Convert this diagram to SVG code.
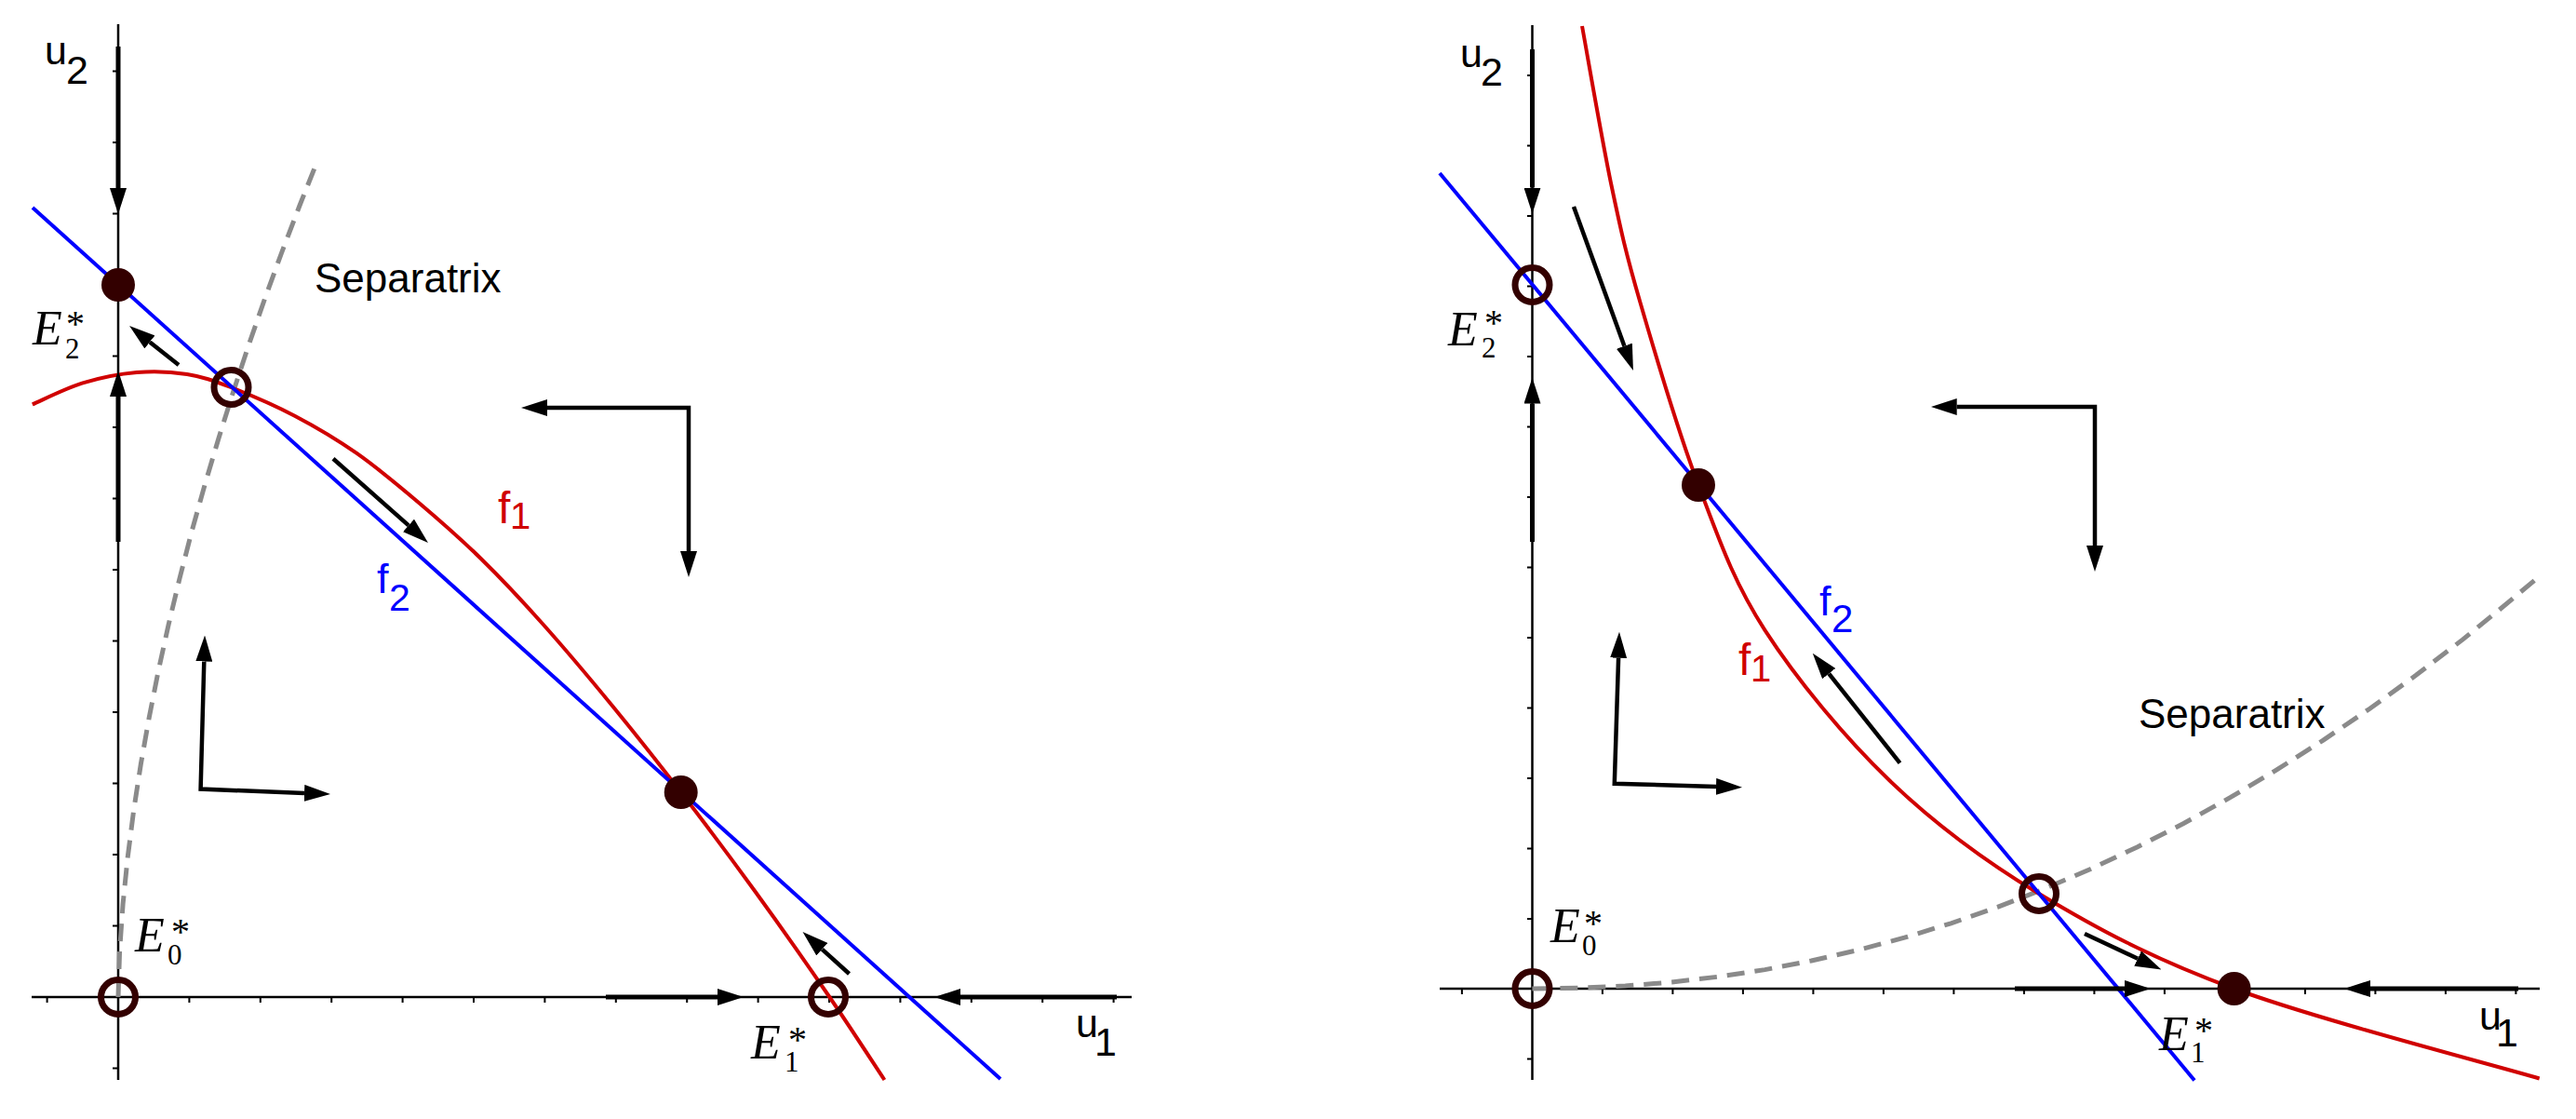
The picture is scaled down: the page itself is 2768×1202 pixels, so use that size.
<svg xmlns="http://www.w3.org/2000/svg" width="2768" height="1202" viewBox="0 0 2768 1202">
<style>
.axis{stroke:#000;stroke-width:2.5;fill:none}
.tick{stroke:#000;stroke-width:2;fill:none}
.thick{stroke:#000;stroke-width:5;fill:none}
.arr{stroke:#000;stroke-width:4.5;fill:none}
.red{stroke:#d00000;stroke-width:4;fill:none}
.blue{stroke:#0000ff;stroke-width:4;fill:none}
.sep{stroke:#8a8a8a;stroke-width:5;fill:none;stroke-dasharray:19 11}
.open{fill:none;stroke:#330000;stroke-width:7}
.fill{fill:#330000}
.lab{font-family:"Liberation Sans",Arial,sans-serif;fill:#000}
.redt{font-family:"Liberation Sans",Arial,sans-serif;fill:#d00000}
.bluet{font-family:"Liberation Sans",Arial,sans-serif;fill:#0000ff}
.em{font-family:"Liberation Serif","Times New Roman",serif;fill:#000}
.it{font-style:italic;font-size:52px}
.sub{font-size:31px}
.sup{font-size:40px}
</style>
<defs>
<marker id="ah" viewBox="0 0 28 18" refX="0" refY="9" markerWidth="28" markerHeight="18" markerUnits="userSpaceOnUse" orient="auto-start-reverse">
<path d="M0,0 L28,9 L0,18 z" fill="#000"/>
</marker>
</defs>
<rect width="2768" height="1202" fill="#fff"/>

<!-- LEFT PANEL -->
<g id="left-axes">
<line class="axis" x1="127" y1="26" x2="127" y2="1160"/>
<line class="axis" x1="34" y1="1071" x2="1216" y2="1071"/>
<path class="tick" d="M121,76.5h6M121,153h6M121,229.5h6M121,306h6M121,382.5h6M121,459h6M121,535.5h6M121,612h6M121,688.5h6M121,765h6M121,841.5h6M121,918h6M121,994.5h6M121,1147.5h6"/>
<path class="tick" d="M50.6,1071v6M203.4,1071v6M279.8,1071v6M356.2,1071v6M432.6,1071v6M509,1071v6M585.4,1071v6M661.8,1071v6M738.2,1071v6M814.6,1071v6M891,1071v6M967.4,1071v6M1043.8,1071v6M1120.2,1071v6M1196.6,1071v6"/>
<text class="lab" x="48" y="69" font-size="43">u<tspan x="71" y="90">2</tspan></text>
<text class="lab" x="1156" y="1114" font-size="43">u<tspan x="1176" y="1134">1</tspan></text>
</g>

<g id="left-separatrix">
<path class="sep" d="M127,1071 L128.6,1021 L132.1,971 L137.2,921 L143.6,871 L151.3,821 L160.2,771 L170.1,721 L181.1,671 L193.1,621 L206,571 L220,521 L234.9,471 L250.6,421 L267.1,371 L284.5,321 L302.8,271 L321.9,221 L341,173"/>
<text class="lab" x="338" y="314" font-size="44">Separatrix</text>
</g>

<g id="left-f1">
<path class="red" d="M34.8,434.4 C43.8,430.6 70.3,417.1 89,411.4 C107.7,405.7 128.3,401.6 147,400 C165.7,398.4 184.2,399.3 201,402 C217.8,404.7 228.7,408.6 248,416 C267.3,423.5 294.2,434.9 316.7,446.7 C339.2,458.5 360.8,471.2 383,486.7 C405.2,502.3 427.7,521.1 450,540 C472.3,558.9 494.5,578.3 516.7,600 C538.9,621.7 559.6,643.8 583,670 C606.4,696.2 632.2,726.8 657,757 C681.8,787.2 706,817.7 731.7,851 C757.4,884.3 784.6,920.7 811,957 C837.4,993.3 866.8,1035.2 890,1069 C913.2,1102.8 940.3,1144.8 950.4,1160"/>
<text class="redt" x="535" y="562" font-size="48">f<tspan x="548" y="568" font-size="40">1</tspan></text>
</g>

<g id="left-f2">
<line class="blue" x1="35" y1="223" x2="1075" y2="1159"/>
<text class="bluet" x="405" y="637" font-size="45">f<tspan x="418" y="656" font-size="41">2</tspan></text>
</g>

<!-- RIGHT PANEL -->
<g id="right-axes">
<line class="axis" x1="1646.5" y1="27" x2="1646.5" y2="1160"/>
<line class="axis" x1="1547" y1="1062" x2="2729" y2="1062"/>
<path class="tick" d="M1641,81.1h5.5M1641,156.6h5.5M1641,232.1h5.5M1641,307.6h5.5M1641,383.1h5.5M1641,458.6h5.5M1641,534.1h5.5M1641,609.6h5.5M1641,685.1h5.5M1641,760.6h5.5M1641,836.1h5.5M1641,911.6h5.5M1641,987.1h5.5M1641,1137.5h5.5"/>
<path class="tick" d="M1570.9,1062v6M1721.9,1062v6M1797.4,1062v6M1872.9,1062v6M1948.4,1062v6M2023.9,1062v6M2099.4,1062v6M2174.9,1062v6M2250.4,1062v6M2325.9,1062v6M2401.4,1062v6M2476.9,1062v6M2552.4,1062v6M2627.9,1062v6M2703.4,1062v6"/>
<text class="lab" x="1569" y="72" font-size="43">u<tspan x="1591" y="92">2</tspan></text>
<text class="lab" x="2664" y="1106" font-size="43">u<tspan x="2682" y="1124">1</tspan></text>
</g>

<g id="right-separatrix">
<path class="sep" d="M1646.4,1062 L1696.4,1061.3 L1746.4,1059 L1796.4,1055 L1846.4,1049.2 L1896.4,1041.6 L1946.4,1032 L1996.4,1020.6 L2046.4,1007.2 L2096.4,991.8 L2146.4,974.4 L2196.4,954.9 L2246.4,933.5 L2296.4,909.9 L2346.4,884.5 L2396.4,856.7 L2446.4,826.9 L2496.4,795.1 L2546.4,761.2 L2596.4,725.1 L2646.4,686.9 L2688,653 L2728.7,619"/>
<text class="lab" x="2298" y="782" font-size="44">Separatrix</text>
</g>

<g id="right-f1">
<path class="red" d="M1700,28 C1705.3,56.7 1721.3,150.5 1731.7,200 C1742.1,249.5 1746.95,271.5 1762.5,325 C1778.05,378.5 1802.7,462.4 1825,521 C1847.3,579.6 1862.2,624 1896.4,676.8 C1930.6,729.6 1980.9,790.8 2030,838 C2079.1,885.2 2129.2,922.7 2191,960 C2252.8,997.3 2311,1028.9 2400.6,1062 C2490.2,1095.1 2674,1142.4 2728.7,1158.5"/>
<text class="redt" x="1868" y="725" font-size="48">f<tspan x="1881" y="732" font-size="40">1</tspan></text>
</g>

<g id="right-f2">
<line class="blue" x1="1547" y1="186" x2="2358" y2="1160.5"/>
<text class="bluet" x="1955" y="661" font-size="45">f<tspan x="1968" y="679" font-size="42">2</tspan></text>
</g>

<!-- CONNECTORS / ARROWS -->
<g id="connectors">
<line class="thick" x1="127" y1="50" x2="127" y2="202" marker-end="url(#ah)"/>
<line class="thick" x1="127" y1="582" x2="127" y2="426" marker-end="url(#ah)"/>
<line class="thick" x1="651" y1="1071" x2="771" y2="1071" marker-end="url(#ah)"/>
<line class="thick" x1="1200" y1="1071" x2="1032" y2="1071" marker-end="url(#ah)"/>
<line class="arr" x1="192" y1="392" x2="161" y2="367.4" marker-end="url(#ah)"/>
<line class="arr" x1="358" y1="492.7" x2="439" y2="564.4" marker-end="url(#ah)"/>
<polyline class="arr" points="588,438 740,438 740,592" marker-start="url(#ah)" marker-end="url(#ah)"/>
<polyline class="arr" points="219.3,710.5 215.6,847.6 327,851.9" marker-start="url(#ah)" marker-end="url(#ah)"/>
<line class="arr" x1="912.5" y1="1046" x2="883.3" y2="1019.7" marker-end="url(#ah)"/>

<line class="thick" x1="1646.5" y1="53" x2="1646.5" y2="201.6" marker-end="url(#ah)"/>
<line class="thick" x1="1646.5" y1="582" x2="1646.5" y2="433.6" marker-end="url(#ah)"/>
<line class="thick" x1="2165" y1="1062" x2="2283" y2="1062" marker-end="url(#ah)"/>
<line class="thick" x1="2706" y1="1062" x2="2547" y2="1062" marker-end="url(#ah)"/>
<line class="arr" x1="1691" y1="222" x2="1745.4" y2="371.7" marker-end="url(#ah)"/>
<line class="arr" x1="2041.5" y1="819.6" x2="1965.2" y2="723.6" marker-end="url(#ah)"/>
<polyline class="arr" points="2102.7,437 2251,437 2251,586" marker-start="url(#ah)" marker-end="url(#ah)"/>
<polyline class="arr" points="1739.1,706.7 1734.8,841.8 1844,844.9" marker-start="url(#ah)" marker-end="url(#ah)"/>
<line class="arr" x1="2240" y1="1003" x2="2297.1" y2="1029.7" marker-end="url(#ah)"/>
</g>

<!-- EQUILIBRIA -->
<g id="L-E0">
<circle class="open" cx="127" cy="1071" r="18.5"/>
<text class="em" x="145" y="1022"><tspan class="it">E</tspan><tspan class="sup" x="184" y="1014">*</tspan><tspan class="sub" x="180" y="1036">0</tspan></text>
</g>
<g id="L-E2">
<circle class="fill" cx="127" cy="306" r="18"/>
<text class="em" x="35" y="370"><tspan class="it">E</tspan><tspan class="sup" x="71" y="361">*</tspan><tspan class="sub" x="70" y="385">2</tspan></text>
</g>
<g id="L-E1">
<circle class="open" cx="890" cy="1071" r="18.5"/>
<text class="em" x="807" y="1137"><tspan class="it">E</tspan><tspan class="sup" x="847" y="1130">*</tspan><tspan class="sub" x="843" y="1151">1</tspan></text>
</g>
<g id="L-saddle">
<circle class="open" cx="248.5" cy="416" r="18.5"/>
</g>
<g id="L-coexist">
<circle class="fill" cx="731.7" cy="851" r="18"/>
</g>

<g id="R-E0">
<circle class="open" cx="1646.5" cy="1062" r="18.5"/>
<text class="em" x="1666" y="1012"><tspan class="it">E</tspan><tspan class="sup" x="1702" y="1005">*</tspan><tspan class="sub" x="1700" y="1026">0</tspan></text>
</g>
<g id="R-E2">
<circle class="open" cx="1646.5" cy="306" r="18.5"/>
<text class="em" x="1556" y="371"><tspan class="it">E</tspan><tspan class="sup" x="1595" y="360">*</tspan><tspan class="sub" x="1592" y="384">2</tspan></text>
</g>
<g id="R-E1">
<circle class="fill" cx="2400.6" cy="1062" r="18"/>
<text class="em" x="2320" y="1128"><tspan class="it">E</tspan><tspan class="sup" x="2358" y="1120">*</tspan><tspan class="sub" x="2354" y="1141">1</tspan></text>
</g>
<g id="R-stable">
<circle class="fill" cx="1825" cy="521" r="18"/>
</g>
<g id="R-saddle">
<circle class="open" cx="2191" cy="960" r="18.5"/>
</g>
</svg>
